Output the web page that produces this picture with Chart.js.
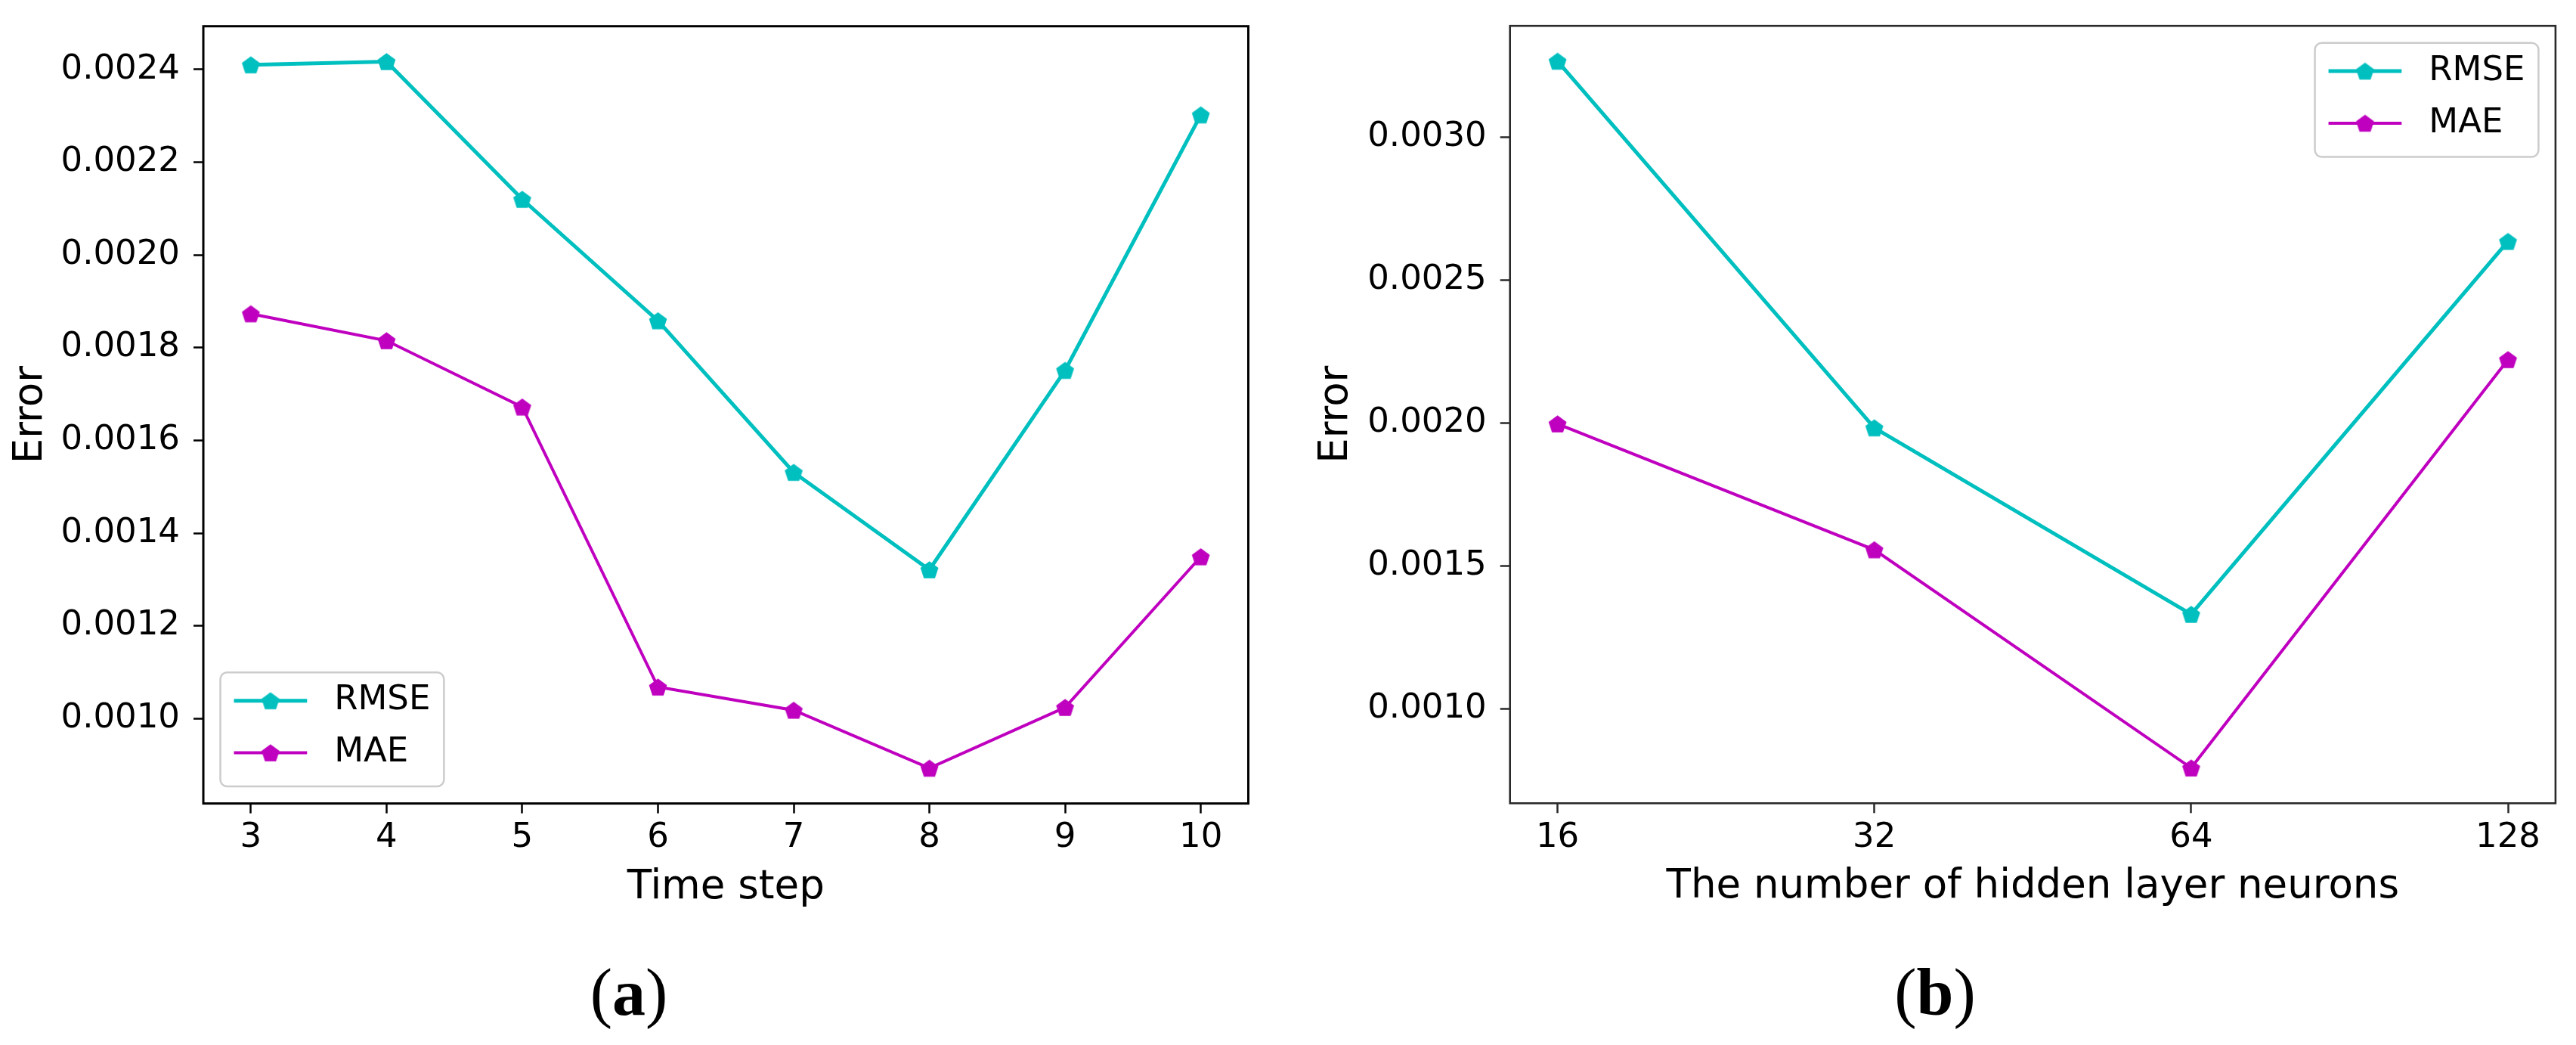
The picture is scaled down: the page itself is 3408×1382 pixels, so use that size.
<!DOCTYPE html>
<html><head><meta charset="utf-8">
<script src="https://cdn.jsdelivr.net/npm/chart.js@4.4.1/dist/chart.umd.min.js"></script>
<style>
html,body{margin:0;padding:0;background:#fff;width:3408px;height:1382px;overflow:hidden;}
canvas{position:absolute;top:0;}
#ca{left:0px;} #cb{left:1704px;}
.cap{position:absolute;top:1269px;font-family:"Liberation Serif","Times New Roman",serif;font-size:88px;line-height:88px;color:#000;white-space:nowrap;transform:translateX(-50%);}
.cap b{font-weight:bold;}
</style></head><body>
<canvas id="ca" width="1704" height="1240"></canvas>
<canvas id="cb" width="1704" height="1240"></canvas>
<div class="cap" style="left:832px">(<b>a</b>)</div>
<div class="cap" style="left:2560px">(<b>b</b>)</div>
<script>
// ---- data ----
const timeSteps = [3, 4, 5, 6, 7, 8, 9, 10];
const rmseTime = [0.00241, 0.002417, 0.00212, 0.001858, 0.001531, 0.001321, 0.001751, 0.002302];
const maeTime  = [0.001873, 0.001815, 0.001672, 0.001068, 0.001018, 0.000893, 0.001024, 0.001349];
const neurons = [16, 32, 64, 128];
const rmseNeurons = [0.003267, 0.001983, 0.00133, 0.002636];
const maeNeurons  = [0.001997, 0.001556, 0.000792, 0.002222];
const yTicksTime = [0.0010, 0.0012, 0.0014, 0.0016, 0.0018, 0.0020, 0.0022, 0.0024];
const yTicksNeurons = [0.0010, 0.0015, 0.0020, 0.0025, 0.0030];
const seriesNames = ['RMSE', 'MAE'];
const xTitles = ['Time step', 'The number of hidden layer neurons'];
const yTitle = 'Error';

// ---- styles ----
const FONT = '"DejaVu Sans", sans-serif';
const CYAN = '#00bfbf', MAGENTA = '#bf00bf';

function pentagon(color, r) {
  const s = Math.ceil(2 * r + 2);
  const c = document.createElement('canvas');
  c.width = s; c.height = s;
  const g = c.getContext('2d');
  g.fillStyle = color;
  g.beginPath();
  const cx = s / 2, cy = s / 2 + r * 0.1;
  for (let i = 0; i < 5; i++) {
    const a = -Math.PI / 2 + i * 2 * Math.PI / 5;
    const px = cx + r * Math.cos(a), py = cy + r * Math.sin(a);
    if (i === 0) g.moveTo(px, py); else g.lineTo(px, py);
  }
  g.closePath(); g.fill();
  return c;
}
const markCyan = pentagon(CYAN, 12.5);
const markMag = pentagon(MAGENTA, 12.5);

function spinesPlugin(color, width) {
  return {
    id: 'spines',
    afterDatasetsDraw(chart) {
      const {ctx, chartArea: c} = chart;
      ctx.save();
      ctx.strokeStyle = color; ctx.lineWidth = width;
      ctx.strokeRect(c.left, c.top, c.right - c.left, c.bottom - c.top);
      ctx.restore();
    }
  };
}

function legendPlugin(loc) {
  return {
    id: 'mplLegend',
    afterDraw(chart) {
      const {ctx, chartArea: ca} = chart;
      const fs = 45;
      ctx.save();
      ctx.font = fs + 'px ' + FONT;
      const ds = chart.data.datasets;
      const textW = Math.max(...ds.map(d => ctx.measureText(d.label).width));
      const pad = 0.4 * fs, handle = 2.15 * fs, gap = 0.8 * fs, rowH = 1.53 * fs, first = 0.83 * fs;
      const w = pad + handle + gap + textW + pad;
      const h = first + rowH * (ds.length - 1) + 0.99 * fs;
      const inset = 0.5 * fs;
      const x = loc === 'lower left' ? ca.left + inset : ca.right - inset - w;
      const y = loc === 'lower left' ? ca.bottom - inset - h : ca.top + inset;
      ctx.beginPath();
      ctx.roundRect(x, y, w, h, 9);
      ctx.fillStyle = 'rgba(255,255,255,0.8)';
      ctx.fill();
      ctx.strokeStyle = '#cccccc'; ctx.lineWidth = 2.5;
      ctx.stroke();
      ds.forEach((d, i) => {
        const cy = y + first + i * rowH;
        ctx.beginPath();
        ctx.moveTo(x + pad, cy); ctx.lineTo(x + pad + handle, cy);
        ctx.strokeStyle = d.borderColor; ctx.lineWidth = d.borderWidth;
        ctx.stroke();
        const m = d.pointStyle;
        ctx.drawImage(m, x + pad + handle / 2 - m.width / 2, cy - m.height / 2);
        ctx.fillStyle = '#000';
        ctx.textBaseline = 'middle'; ctx.textAlign = 'left';
        ctx.fillText(d.label, x + pad + handle + gap, cy);
      });
      ctx.restore();
    }
  };
}

function yRange(a, b) {
  const all = a.concat(b);
  const lo = Math.min(...all), hi = Math.max(...all);
  const m = 0.05 * (hi - lo);
  return [lo - m, hi + m];
}

function build(canvasId, cfg) {
  const [ymin, ymax] = yRange(cfg.s1, cfg.s2);
  const mkDs = (label, vals, color, mark, lw) => ({
    label, data: cfg.xs.map((x, i) => ({x, y: vals[i]})),
    borderColor: color, backgroundColor: color, borderWidth: lw,
    pointStyle: mark, pointRadius: 12, pointHoverRadius: 12, tension: 0, fill: false
  });
  return new Chart(document.getElementById(canvasId), {
    type: 'line',
    data: { datasets: [
      mkDs(seriesNames[0], cfg.s1, CYAN, markCyan, 5),
      mkDs(seriesNames[1], cfg.s2, MAGENTA, markMag, 4)
    ]},
    options: {
      responsive: false, animation: false, devicePixelRatio: 1,
      layout: { padding: cfg.padding },
      plugins: { legend: { display: false }, tooltip: { enabled: false } },
      scales: {
        x: {
          type: cfg.xType, min: cfg.xmin, max: cfg.xmax,
          afterBuildTicks: s => { s.ticks = cfg.xs.map(v => ({value: v})); },
          afterFit: s => { s.height = 143; s.paddingLeft = 0; s.paddingRight = 0; },
          ticks: { font: {family: FONT, size: 45}, color: '#000', padding: 6, maxRotation: 0, minRotation: 0, autoSkip: false,
                   callback: v => String(v) },
          grid: { drawOnChartArea: false, drawTicks: true, tickLength: 13, tickWidth: 2.5, tickColor: cfg.spine },
          border: { display: false },
          title: { display: true, text: cfg.xTitle, font: {family: FONT, size: 53}, color: '#000', padding: {top: 0, bottom: 0} }
        },
        y: {
          type: 'linear', min: ymin, max: ymax,
          afterBuildTicks: s => { s.ticks = cfg.yTicks.map(v => ({value: v})); },
          afterFit: s => { s.width = cfg.yW; s.paddingTop = 0; s.paddingBottom = 0; },
          ticks: { font: {family: FONT, size: 45}, color: '#000', padding: 18, callback: v => v.toFixed(4) },
          grid: { drawOnChartArea: false, drawTicks: true, tickLength: 13, tickWidth: 2.5, tickColor: cfg.spine },
          border: { display: false },
          title: { display: true, text: yTitle, font: {family: FONT, size: 53}, color: '#000', padding: {top: cfg.yTitlePad, bottom: 0} }
        }
      }
    },
    plugins: [spinesPlugin(cfg.spine, cfg.spineW), legendPlugin(cfg.legendLoc)]
  });
}

// chart (a)
const xmA = 0.05 * (timeSteps[timeSteps.length - 1] - timeSteps[0]);
build('ca', {
  xs: timeSteps, s1: rmseTime, s2: maeTime, yTicks: yTicksTime,
  xType: 'linear', xmin: timeSteps[0] - xmA, xmax: timeSteps[timeSteps.length - 1] + xmA,
  xTitle: xTitles[0], yW: 269, yTitlePad: 9.7,
  padding: {left: 0, top: 34.7, right: 52.5, bottom: 34.4},
  spine: '#000', spineW: 3, legendLoc: 'lower left'
});

// chart (b) : log2-spaced neuron counts
const l0 = Math.log10(neurons[0]), l1 = Math.log10(neurons[neurons.length - 1]);
const lm = 0.05 * (l1 - l0);
build('cb', {
  xs: neurons, s1: rmseNeurons, s2: maeNeurons, yTicks: yTicksNeurons,
  xType: 'logarithmic', xmin: Math.pow(10, l0 - lm), xmax: Math.pow(10, l1 + lm),
  xTitle: xTitles[1], yW: 293.7, yTitlePad: 32.7,
  padding: {left: 0, top: 34.2, right: 27.1, bottom: 34.7},
  spine: '#2a2a2a', spineW: 2.6, legendLoc: 'upper right'
});
</script>
</body></html>
